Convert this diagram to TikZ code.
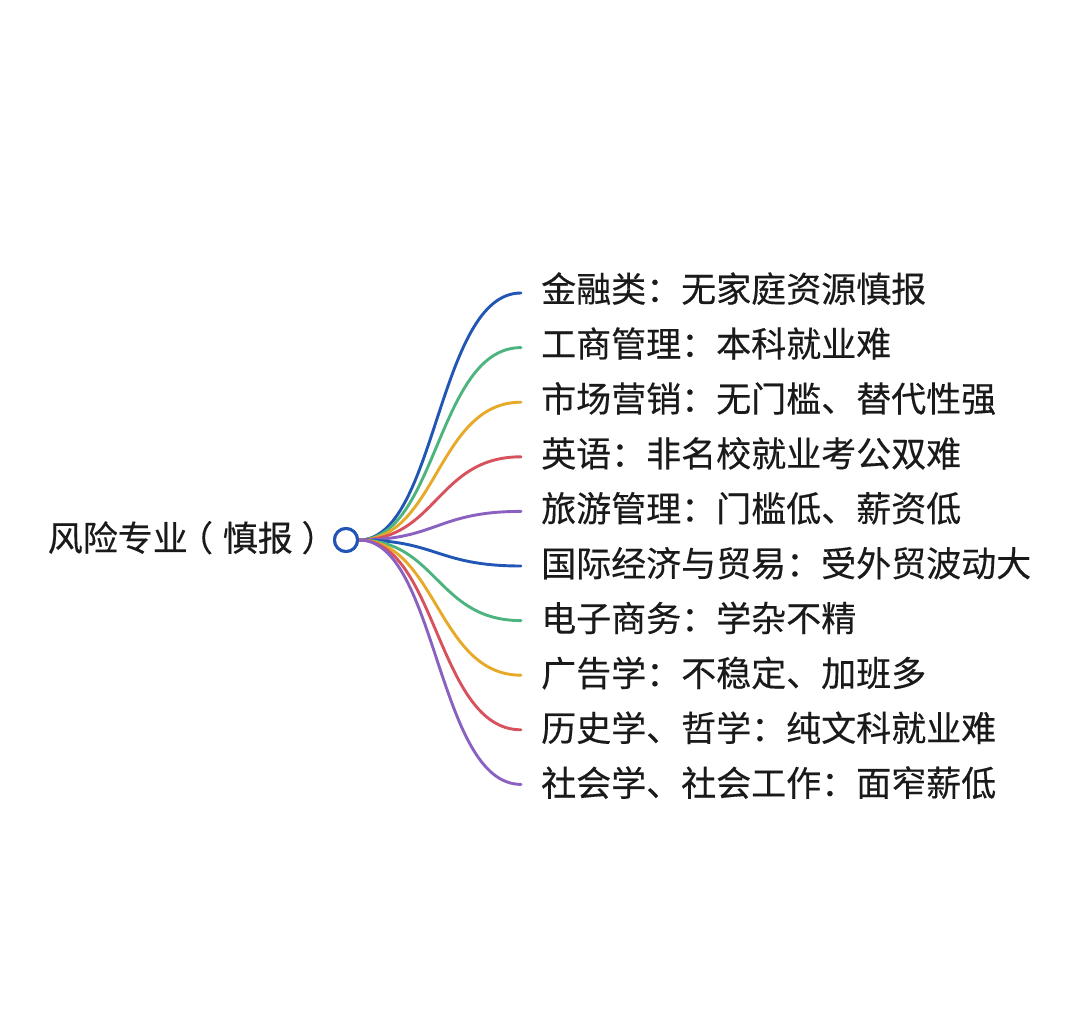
\documentclass[tikz,border=0pt]{standalone}
\usepackage{fontspec}
\newfontfamily\cjk[FakeBold=0.35]{Noto Sans CJK SC}
\definecolor{cblue}{HTML}{2156B4}
\definecolor{cgreen}{HTML}{4DB47F}
\definecolor{corange}{HTML}{E6AA28}
\definecolor{cred}{HTML}{D8525E}
\definecolor{cpurple}{HTML}{8A61C0}
\definecolor{txt}{HTML}{1A1A1A}
\newcommand{\lparen}{\makebox[1em][l]{\hspace*{-0.28em}（}}
\newcommand{\rparen}{\makebox[1em][l]{\hspace*{0.25em}）}}
\begin{document}
\begin{tikzpicture}[x=1pt,y=-1pt,
  lbl/.style={anchor=base west, inner sep=0pt, font=\cjk\fontsize{35}{40}\selectfont, text=txt},
  br/.style={line width=2.9pt, line cap=round},
  hubstyle/.style={circle, draw=cblue, line width=3pt, fill=white, minimum size=23pt, inner sep=0pt}]
\fill[white] (0,0) rectangle (1080,1016);
\useasboundingbox (0,0) rectangle (1080,1016);
\node[hubstyle] (hub) at (346,540) {};
\node[lbl, anchor=base east] (root) at (328,551) {风险专业\lparen 慎报\rparen};
\foreach \i/\t/\c in {
  0/{金融类：无家庭资源慎报}/cblue,
  1/{工商管理：本科就业难}/cgreen,
  2/{市场营销：无门槛、替代性强}/corange,
  3/{英语：非名校就业考公双难}/cred,
  4/{旅游管理：门槛低、薪资低}/cpurple,
  5/{国际经济与贸易：受外贸波动大}/cblue,
  6/{电子商务：学杂不精}/cgreen,
  7/{广告学：不稳定、加班多}/corange,
  8/{历史学、哲学：纯文科就业难}/cred,
  9/{社会学、社会工作：面窄薪低}/cpurple}{
  \node[lbl] (b\i) at (541,{302+\i*54.9}) {\t};
  \coordinate (e\i) at (521,{293+\i*54.6});
  \draw[br, draw=\c] (hub.east) .. controls +(78,0) and +(-84,0) .. (e\i);
}
\node[hubstyle] at (hub) {};
\end{tikzpicture}
\end{document}
